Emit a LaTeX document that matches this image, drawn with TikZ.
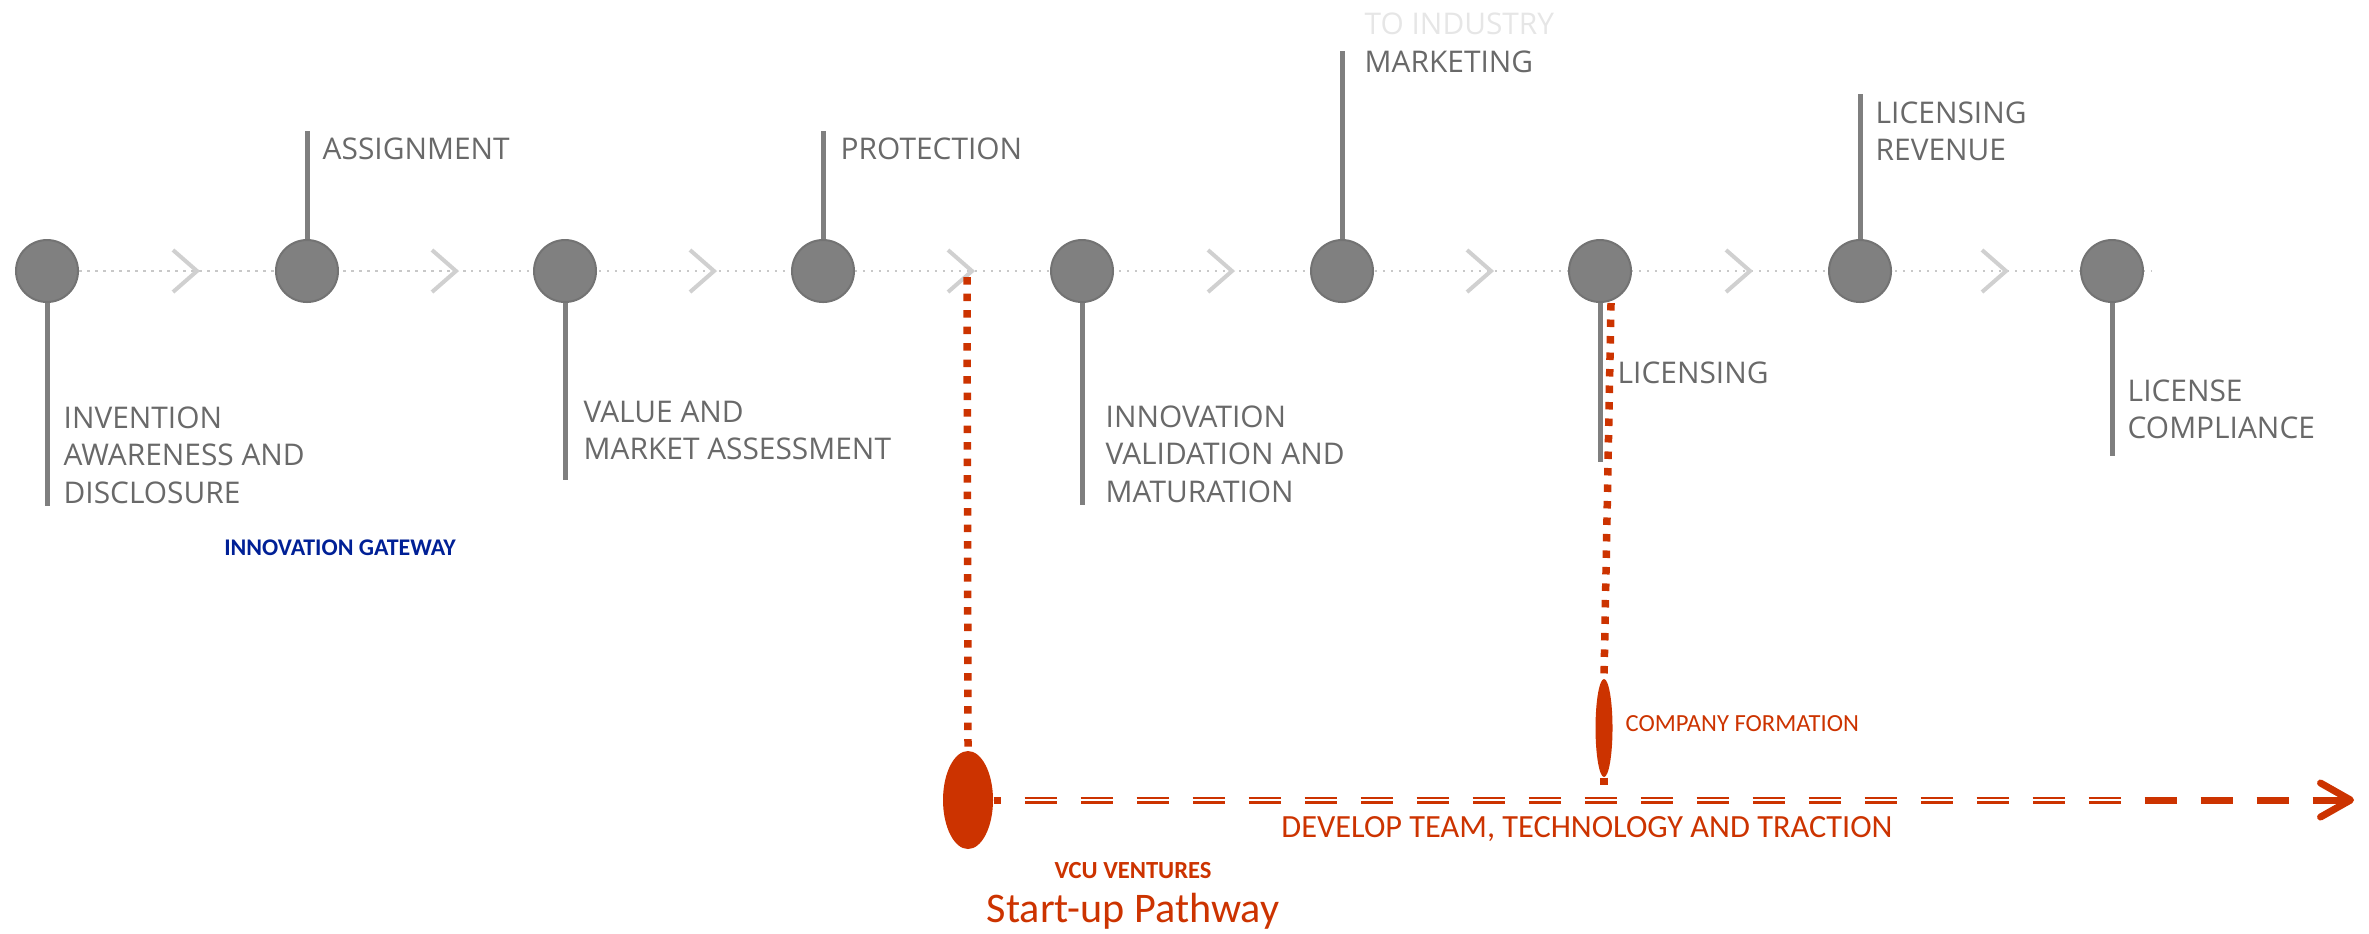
\documentclass[tikz,border=0pt]{standalone}
\usepackage{fontspec}
\setmainfont{Open Sans}
\newfontfamily\calibri{Carlito}
\usetikzlibrary{shapes.geometric,arrows.meta}
\definecolor{dotgray}{RGB}{128,128,128}
\definecolor{stemgray}{RGB}{127,127,127}
\definecolor{labelgray}{RGB}{105,105,105}
\definecolor{trackgray}{RGB}{200,200,200}
\definecolor{chevgray}{RGB}{208,208,208}
\definecolor{faintgray}{RGB}{230,230,230}
\definecolor{vcured}{RGB}{204,51,0}
\definecolor{gateblue}{RGB}{0,32,150}

\begin{document}
\begin{tikzpicture}[x=0.1mm,y=-0.1mm,
  stage/.style={circle,fill=dotgray,draw=dotgray!90!black,line width=0.2mm,minimum size=6.2mm,inner sep=0},
  stemline/.style={draw=stemgray,line width=0.5mm},
  stagetext/.style={anchor=north west,inner sep=0,align=left,text=labelgray,font=\fontsize{8.5}{10.7}\selectfont},
  track/.style={draw=trackgray,line width=0.2mm,dash pattern=on 0.25mm off 0.55mm},
  chevron/.style={draw=chevgray,line width=0.4mm},
  venture/.style={ellipse,fill=vcured,inner sep=0,minimum width=5mm,minimum height=9.8mm},
  reddots/.style={draw=vcured,line width=0.75mm,dash pattern=on 0.75mm off 0.9mm},
  redtext/.style={inner sep=0,text=vcured}]
  \useasboundingbox (0,0) rectangle (2369,933);

  \coordinate (trackstart) at (47,271);
  \coordinate (trackend) at (2152,271);
  \draw[track] (trackstart) -- (trackend);
  \foreach \m in {177,436,694,952,1212,1471,1730,1986}
    \draw[chevron] (\m-4,250) -- (\m+20,271) -- (\m-4,292);

  \foreach \x [count=\i] in {47,307,565,823,1082,1342,1600,1860,2112}
    \node[stage] (c\i) at (\x,271) {};

  \coordinate (e1) at (47,506);
  \draw[stemline] (c1.south) -- (e1);
  \node[stagetext] (t1) at (63,406) {INVENTION\\AWARENESS AND\\DISCLOSURE};
  \coordinate (e2) at (307,131);
  \draw[stemline] (c2.north) -- (e2);
  \node[stagetext] (t2) at (322,137) {ASSIGNMENT};
  \coordinate (e3) at (565,480);
  \draw[stemline] (c3.south) -- (e3);
  \node[stagetext] (t3) at (583,400) {VALUE AND\\MARKET ASSESSMENT};
  \coordinate (e4) at (823,131);
  \draw[stemline] (c4.north) -- (e4);
  \node[stagetext] (t4) at (840,137) {PROTECTION};
  \coordinate (e5) at (1082,505);
  \draw[stemline] (c5.south) -- (e5);
  \node[stagetext] (t5) at (1105,405) {INNOVATION\\VALIDATION AND\\MATURATION};
  \coordinate (e6) at (1342,51);
  \draw[stemline] (c6.north) -- (e6);
  \node[stagetext] (t6) at (1364,50) {MARKETING};
  \node[stagetext,text=faintgray] (t6b) at (1364,12) {TO INDUSTRY};
  \coordinate (e7) at (1600,462);
  \draw[stemline] (c7.south) -- (e7);
  \node[stagetext] (t7) at (1617,361) {LICENSING};
  \coordinate (e8) at (1860,94);
  \draw[stemline] (c8.north) -- (e8);
  \node[stagetext] (t8) at (1875,101) {LICENSING\\REVENUE};
  \coordinate (e9) at (2112,456);
  \draw[stemline] (c9.south) -- (e9);
  \node[stagetext] (t9) at (2127,379) {LICENSE\\COMPLIANCE};

  \node[text=gateblue,inner sep=0,font=\calibri\bfseries\fontsize{6.8}{8}\selectfont] (gate) at (340,548) {INNOVATION GATEWAY};

  % start-up pathway
  \node[venture] (v1) at (968,800) {};
  \node[venture,minimum width=1.7mm] (v2) at (1604,728) {};
  \coordinate (r1top) at (967,277);
  \draw[reddots] (r1top) -- (v1.north);
  \coordinate (r2top) at (1611,303);
  \coordinate (r2bot) at (1604,792);
  \draw[reddots] (r2top) -- (v2.north);
  \draw[reddots] (v2.south) -- (r2bot);

  \coordinate (tip) at (2354,800);
  \coordinate (dstart) at (1020,800);
  \coordinate (dend) at (2124,800);
  \draw[vcured,line width=0.7mm,dash pattern=on 3.2mm off 2.4mm,dash phase=2.5mm,
    -{Straight Barb[length=3mm,width=3.4mm,round]}] (v1.east) -- (tip);
  \draw[white,line width=0.27mm] (dstart) -- (dend);

  \node[redtext,anchor=west,font=\calibri\fontsize{7}{8}\selectfont] (form) at (1625,724) {COMPANY FORMATION};
  \node[redtext,font=\calibri\fontsize{9.2}{11}\selectfont] (team) at (1587,829) {DEVELOP TEAM, TECHNOLOGY AND TRACTION};
  \node[redtext,font=\calibri\bfseries\fontsize{7}{8}\selectfont] (vcu) at (1133,870) {VCU VENTURES};
  \node[redtext,font=\calibri\fontsize{12}{14}\selectfont] (path) at (1133,911) {Start-up Pathway};
\end{tikzpicture}
\end{document}
